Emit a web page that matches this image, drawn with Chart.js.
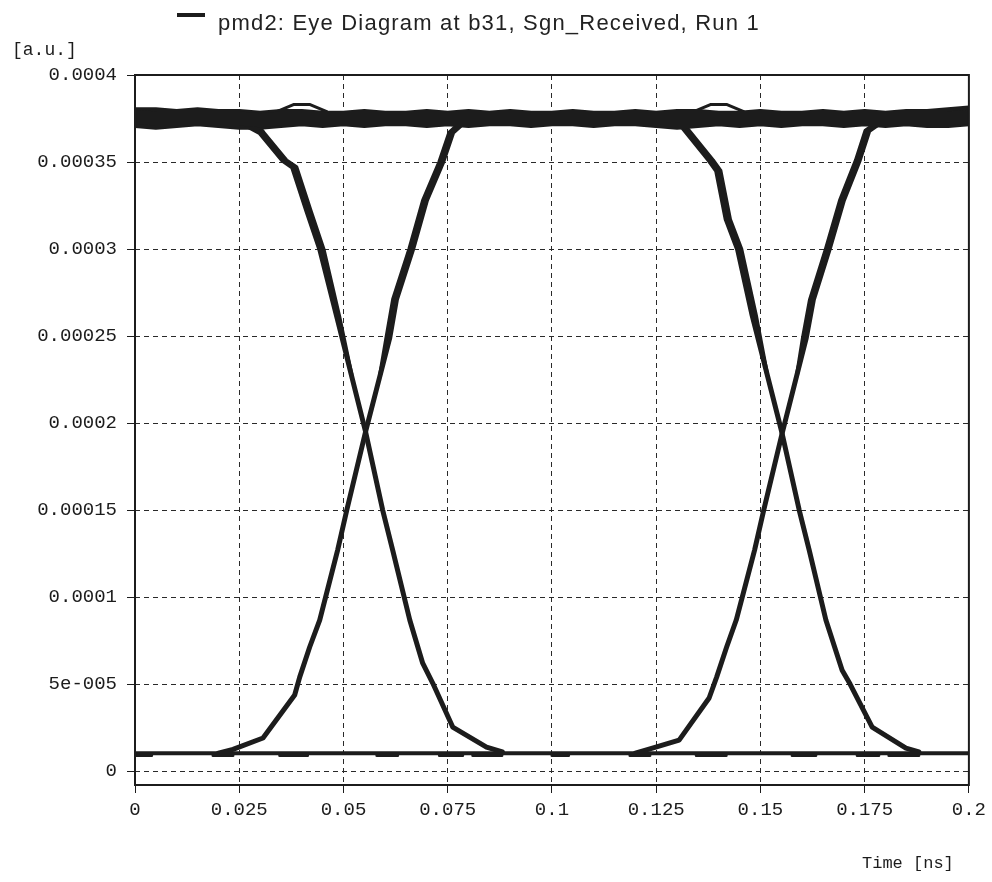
<!DOCTYPE html>
<html>
<head>
<meta charset="utf-8">
<script src="https://cdn.jsdelivr.net/npm/chart.js@4.4.1/dist/chart.umd.min.js"></script>
<style>
  body { margin: 0; background: #fff; }
  canvas { display: block; }
</style>
</head>
<body>
<canvas id="eye" width="992" height="882"></canvas>
<script>
const legendText = 'pmd2: Eye Diagram at b31, Sgn_Received, Run 1';

const xTicks = [0, 0.025, 0.05, 0.075, 0.1, 0.125, 0.15, 0.175, 0.2];
const xTickLabels = ['0', '0.025', '0.05', '0.075', '0.1', '0.125', '0.15', '0.175', '0.2'];
const yTicks = [0, 0.00005, 0.0001, 0.00015, 0.0002, 0.00025, 0.0003, 0.00035, 0.0004];
const yTickLabels = ['0', '5e-005', '0.0001', '0.00015', '0.0002', '0.00025', '0.0003', '0.00035', '0.0004'];

// "1" level band, three overlapping traces
const bandTime = [0, 0.005, 0.01, 0.015, 0.02, 0.025, 0.03, 0.035, 0.04, 0.045,
  0.05, 0.055, 0.06, 0.065, 0.07, 0.075, 0.08, 0.085, 0.09, 0.095,
  0.1, 0.105, 0.11, 0.115, 0.12, 0.125, 0.13, 0.135, 0.14, 0.145,
  0.15, 0.155, 0.16, 0.165, 0.17, 0.175, 0.18, 0.185, 0.19, 0.195, 0.2];
const bandUpper = [0.000380, 0.000380, 0.000379, 0.000380, 0.000379, 0.000379, 0.000378, 0.000379, 0.000379, 0.000378,
  0.000378, 0.000379, 0.000378, 0.000378, 0.000379, 0.000378, 0.000379, 0.000378, 0.000379, 0.000378,
  0.000378, 0.000379, 0.000378, 0.000378, 0.000379, 0.000378, 0.000379, 0.000379, 0.000378, 0.000378,
  0.000379, 0.000378, 0.000378, 0.000379, 0.000378, 0.000379, 0.000378, 0.000379, 0.000379, 0.000380, 0.000381];
const bandMid = [0.000376, 0.000375, 0.000375, 0.000375, 0.000375, 0.000375, 0.000374, 0.000375, 0.000375, 0.000375,
  0.000375, 0.000375, 0.000375, 0.000375, 0.000375, 0.000375, 0.000375, 0.000375, 0.000375, 0.000375,
  0.000375, 0.000375, 0.000375, 0.000375, 0.000375, 0.000375, 0.000375, 0.000375, 0.000375, 0.000375,
  0.000375, 0.000375, 0.000375, 0.000375, 0.000375, 0.000375, 0.000375, 0.000375, 0.000375, 0.000375, 0.000376];
const bandLower = [0.000371, 0.000370, 0.000371, 0.000372, 0.000371, 0.000370, 0.000370, 0.000371, 0.000372, 0.000371,
  0.000372, 0.000371, 0.000372, 0.000372, 0.000371, 0.000372, 0.000371, 0.000372, 0.000372, 0.000371,
  0.000372, 0.000372, 0.000371, 0.000372, 0.000372, 0.000371, 0.000370, 0.000371, 0.000372, 0.000371,
  0.000372, 0.000371, 0.000372, 0.000372, 0.000371, 0.000372, 0.000371, 0.000372, 0.000371, 0.000371, 0.000372];

// thin outlined overshoot traces above the band
const wispTime1 = [0.034, 0.036, 0.038, 0.042, 0.044, 0.046];
const wispTime2 = [0.134, 0.136, 0.138, 0.142, 0.144, 0.146];
const wispLevel = [0.000379, 0.000381, 0.000383, 0.000383, 0.000381, 0.000379];

// "0" level
const lowTime = [0, 0.2];
const lowLevel = [0.0000103, 0.0000103];
const lowPatchTime = [0, 0.004, null, 0.0187, 0.0235, null, 0.0347, 0.0414, null, 0.058, 0.063, null,
  0.073, 0.0786, null, 0.081, 0.088, null, 0.1, 0.104, null, 0.1187, 0.1235, null, 0.1346, 0.1418, null,
  0.1576, 0.1633, null, 0.1732, 0.1784, null, 0.1808, 0.188];
const lowPatchLevel = [0.000009, 0.000009, null, 0.000009, 0.000009, null, 0.000009, 0.000009, null, 0.000009, 0.000009, null,
  0.000009, 0.000009, null, 0.000009, 0.000009, null, 0.000009, 0.000009, null, 0.000009, 0.000009, null, 0.000009, 0.000009, null,
  0.000009, 0.000009, null, 0.000009, 0.000009, null, 0.000009, 0.000009];

// transitions, first eye
const riseTime1 = [0.0200, 0.0235, 0.0307, 0.0383, 0.0395, 0.0419, 0.0443, 0.0486, 0.0508, 0.0553, 0.0611, 0.0627, 0.0666, 0.0699, 0.0738, 0.0762, 0.0790];
const riseLevel1 = [0.0000103, 0.0000125, 0.0000190, 0.0000437, 0.0000540, 0.0000713, 0.0000868, 0.000127, 0.000150, 0.000195, 0.000249, 0.000271, 0.000300, 0.000328, 0.000350, 0.000367, 0.000373];
const fallTime1 = [0.0200, 0.0260, 0.0299, 0.0354, 0.0378, 0.0412, 0.0443, 0.0484, 0.0553, 0.0594, 0.0618, 0.0659, 0.0690, 0.0714, 0.0762, 0.0843, 0.0881];
const fallLevel1 = [0.000375, 0.000372, 0.000367, 0.000351, 0.000347, 0.000322, 0.000300, 0.000261, 0.000195, 0.000150, 0.000127, 0.0000868, 0.0000620, 0.0000506, 0.0000253, 0.0000138, 0.0000110];
// spread of the traces near the top of each edge
const riseSpreadTime1 = [0.0588, 0.0603, 0.0619, 0.0658, 0.0691, 0.0730, 0.0754, 0.0782];
const riseSpreadLevel1 = [0.000228, 0.000249, 0.000271, 0.000300, 0.000328, 0.000350, 0.000367, 0.000373];
const fallSpreadTime1 = [0.0290, 0.0308, 0.0363, 0.0387, 0.0421, 0.0452, 0.0490, 0.0519];
const fallSpreadLevel1 = [0.000372, 0.000367, 0.000351, 0.000347, 0.000322, 0.000300, 0.000261, 0.000228];

// transitions, second eye
const riseTime2 = [0.1200, 0.1241, 0.1305, 0.1377, 0.1395, 0.1419, 0.1442, 0.1486, 0.1508, 0.1552, 0.1610, 0.1627, 0.1665, 0.1699, 0.1737, 0.1760, 0.1790];
const riseLevel2 = [0.0000103, 0.0000132, 0.0000178, 0.0000420, 0.0000540, 0.0000713, 0.0000868, 0.000127, 0.000150, 0.000194, 0.000249, 0.000271, 0.000300, 0.000328, 0.000351, 0.000368, 0.000373];
const fallTime2 = [0.1200, 0.1270, 0.1313, 0.1377, 0.1395, 0.1418, 0.1445, 0.1480, 0.1552, 0.1593, 0.1617, 0.1657, 0.1696, 0.1715, 0.1768, 0.1849, 0.1880];
const fallLevel2 = [0.000375, 0.000373, 0.000370, 0.000351, 0.000345, 0.000317, 0.000300, 0.000262, 0.000194, 0.000150, 0.000127, 0.0000868, 0.0000580, 0.0000500, 0.0000253, 0.0000132, 0.0000110];
const riseSpreadTime2 = [0.1588, 0.1602, 0.1619, 0.1657, 0.1691, 0.1729, 0.1752, 0.1782];
const riseSpreadLevel2 = [0.000228, 0.000249, 0.000271, 0.000300, 0.000328, 0.000351, 0.000368, 0.000373];
const fallSpreadTime2 = [0.1322, 0.1386, 0.1404, 0.1427, 0.1454, 0.1489, 0.1516];
const fallSpreadLevel2 = [0.000370, 0.000351, 0.000345, 0.000317, 0.000300, 0.000262, 0.000228];

const ink = '#1c1c1c';

function pts(times, levels) {
    return times.map((t, i) => ({ x: t, y: levels[i] }));
}

function trace(times, levels, width, color) {
    return {
        data: pts(times, levels),
        borderColor: color || ink,
        backgroundColor: color || ink,
        borderWidth: width,
        pointRadius: 0,
        tension: 0,
        spanGaps: false,
        borderCapStyle: 'round',
        borderJoinStyle: 'round'
    };
}

const frame = {
    id: 'frame',
    afterDraw(chart) {
        const { ctx, chartArea: a } = chart;
        ctx.save();
        ctx.strokeStyle = ink;
        ctx.lineWidth = 2;
        ctx.setLineDash([]);
        ctx.strokeRect(a.left, a.top, a.right - a.left, a.bottom - a.top);

        ctx.fillStyle = ink;
        ctx.textBaseline = 'alphabetic';
        ctx.textAlign = 'left';
        ctx.font = '18px "Liberation Mono"';
        ctx.fillText('[a.u.]', 12, 55);
        ctx.font = '17px "Liberation Mono"';
        ctx.fillText('Time [ns]', 862, 868);

        // legend
        ctx.lineWidth = 4;
        ctx.beginPath();
        ctx.moveTo(177, 15);
        ctx.lineTo(205, 15);
        ctx.stroke();
        ctx.font = '22px "Liberation Sans"';
        ctx.letterSpacing = '1.2px';
        ctx.fillStyle = '#222';
        ctx.fillText(legendText, 218, 29.5);
        ctx.restore();
    }
};

function initChart() {
    const ctx = document.getElementById('eye').getContext('2d');

    new Chart(ctx, {
        type: 'line',
        data: {
            datasets: [
                trace(bandTime, bandMid, 14),
                trace(bandTime, bandUpper, 5),
                trace(bandTime, bandLower, 5),
                trace(wispTime1, wispLevel, 3),
                trace(wispTime1, wispLevel, 1, '#fff'),
                trace(wispTime2, wispLevel, 3),
                trace(wispTime2, wispLevel, 1, '#fff'),
                trace(lowTime, lowLevel, 4),
                trace(lowPatchTime, lowPatchLevel, 3),
                trace(riseTime1, riseLevel1, 5),
                trace(fallTime1, fallLevel1, 5),
                trace(riseSpreadTime1, riseSpreadLevel1, 4),
                trace(fallSpreadTime1, fallSpreadLevel1, 4),
                trace(riseTime2, riseLevel2, 5),
                trace(fallTime2, fallLevel2, 5),
                trace(riseSpreadTime2, riseSpreadLevel2, 4),
                trace(fallSpreadTime2, fallSpreadLevel2, 4)
            ]
        },
        options: {
            responsive: false,
            animation: false,
            layout: { padding: { top: 75, right: 22, bottom: 0, left: 0 } },
            plugins: {
                legend: { display: false },
                tooltip: { enabled: false }
            },
            scales: {
                x: {
                    type: 'linear',
                    min: 0,
                    max: 0.2,
                    afterBuildTicks: s => { s.ticks = xTicks.map(v => ({ value: v })); },
                    afterFit: s => { s.height = 97; },
                    ticks: {
                        callback: (v, i) => xTickLabels[i],
                        autoSkip: false,
                        maxRotation: 0,
                        padding: 6,
                        color: ink,
                        font: { family: 'Liberation Mono', size: 19 }
                    },
                    grid: {
                        color: '#2a2a2a',
                        lineWidth: 1,
                        tickLength: 8,
                        tickColor: ink,
                        tickWidth: 1,
                        tickBorderDash: []
                    },
                    border: { display: false, dash: [5, 4] }
                },
                y: {
                    type: 'linear',
                    min: -0.000008,
                    max: 0.0004,
                    afterBuildTicks: s => { s.ticks = yTicks.map(v => ({ value: v })); },
                    afterFit: s => { s.width = 135; },
                    ticks: {
                        callback: (v, i) => yTickLabels[i],
                        autoSkip: false,
                        padding: 10,
                        color: ink,
                        font: { family: 'Liberation Mono', size: 19 }
                    },
                    grid: {
                        color: '#2a2a2a',
                        lineWidth: 1,
                        tickLength: 8,
                        tickColor: ink,
                        tickWidth: 1,
                        tickBorderDash: []
                    },
                    border: { display: false, dash: [5, 4] }
                }
            }
        },
        plugins: [frame]
    });
}

initChart();
</script>
</body>
</html>
